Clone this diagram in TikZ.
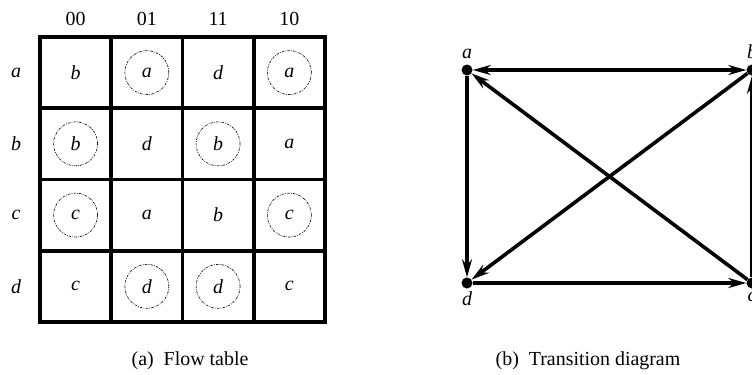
\documentclass[tikz,border=0pt]{standalone}
\usepackage{fontspec}
\setmainfont{Liberation Serif}
\usepackage{tikz}
\usetikzlibrary{arrows.meta, positioning}

\newcommand{\taille}{\fontsize{20}{22}\selectfont}

\tikzset{
  grille/.style={line width=3.6bp, line cap=rect},
  plain/.style={inner sep=0pt, font=\taille\itshape},
  stable/.style={plain, circle, draw, line width=0.6bp, minimum size=44bp,
    dash pattern=on 2.5pt off 1.2pt on 0.8pt off 1.2pt},
  etat/.style={circle, fill=black, inner sep=0pt, minimum size=11bp},
  trans/.style={line width=3.6bp, -{Stealth[length=18bp, width=10bp]}},
}

\begin{document}
\begin{tikzpicture}[x=1bp, y=-1bp, font=\taille]

  \useasboundingbox (0,0) rectangle (752,374);
  \clip (0,0) rectangle (752,374);

  % Table des etats
  \draw[grille] (40,37) rectangle (325,322);
  \foreach \k in {1,2,3}{
    \draw[grille] (40+71.25*\k,37) -- (40+71.25*\k,322);
    \draw[grille] (40,37+71.25*\k) -- (325,37+71.25*\k);
  }

  % Entrees
  \foreach \x/\in in {0/00, 1/01, 2/11, 3/10}
    \node (h\in) at (75.6+71.25*\x,19) {\in};
  \foreach \y/\r in {0/a, 1/b, 2/c, 3/d}
    \node[plain] (r\r) at (16,72.6+71.25*\y) {\r};

  % Cases (cercle = etat stable)
  \foreach \x/\y/\s/\st in {0/0/b/plain, 1/0/a/stable, 2/0/d/plain, 3/0/a/stable,
                            0/1/b/stable, 1/1/d/plain, 2/1/b/stable, 3/1/a/plain,
                            0/2/c/stable, 1/2/a/plain, 2/2/b/plain, 3/2/c/stable,
                            0/3/c/plain, 1/3/d/stable, 2/3/d/stable, 3/3/c/plain}
    \node[\st] (c\x\y) at (75.6+71.25*\x,72.6+71.25*\y) {\s};

  \node (capa) at (190,361) {(a)\ \ Flow table};

  % Diagramme de transition
  \node[etat, label={[plain, yshift=5bp]above:a}] (a) at (467,70) {};
  \node[etat, label={[plain, yshift=5bp]above:b}] (b) at (752,70) {};
  \node[etat, label={[plain, yshift=-3bp]below:c}] (c) at (752,283) {};
  \node[etat, label={[plain, yshift=-3bp]below:d}] (d) at (467,283) {};

  \draw[trans, {Stealth[length=18bp, width=10bp]}-{Stealth[length=18bp, width=10bp]}] (a) -- (b);
  \draw[trans] (a) -- (d);
  \draw[trans] (d) -- (c);
  \draw[trans] (c) -- (b);
  \draw[trans] (c) -- (a);
  \draw[trans] (b) -- (d);

  \node (capb) at (588,361) {(b)\ \ Transition diagram};

\end{tikzpicture}
\end{document}
